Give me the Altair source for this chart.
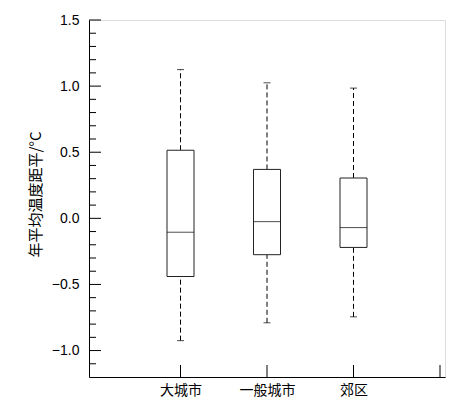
import altair as alt
import pandas as pd

categories = ["大城市", "一般城市", "郊区"]
positions = [1, 2, 3]
lower = [-0.925, -0.79, -0.745]
q1 = [-0.44, -0.275, -0.22]
median = [-0.105, -0.025, -0.07]
q3 = [0.515, 0.37, 0.305]
upper = [1.125, 1.025, 0.985]

y_major = [-1.0, -0.5, 0.0, 0.5, 1.0, 1.5]
y_minor = [round(-1.1 + 0.1 * i, 1) for i in range(26)]
y_minor = [v for v in y_minor if all(abs(v - m) > 1e-9 for m in y_major)]
x_ticks = [1, 2, 3, 4]

W, H = 356, 357
CJK = "Noto Sans CJK SC"
NUM = "Liberation Sans"

df = pd.DataFrame({"cat": categories, "pos": positions, "lower": lower, "q1": q1,
                   "median": median, "q3": q3, "upper": upper})

label_map = "{" + ",".join(f"'{p}':'{c}'" for p, c in zip(positions, categories)) + "}"

xscale = alt.Scale(domain=[0, 4], nice=False, zero=False)
yscale = alt.Scale(domain=[-1.2, 1.5], nice=False, zero=False)

xaxis = alt.Axis(values=[0, 1, 2, 3, 4], tickSize=0, labelExpr=f"{label_map}[datum.value] || ''",
                 labelFont=CJK, labelFontSize=14, labelColor="black", labelPadding=6,
                 domainColor="black", grid=False, title=None)
yaxis = alt.Axis(values=y_major, format=".1f", tickSize=0, labelFont=NUM, labelFontSize=14,
                 labelColor="black", labelPadding=10, domainColor="black", grid=False,
                 title="年平均温度距平/°C", titleFont=CJK, titleFontSize=15, titleFontWeight="normal",
                 titleColor="black", titlePadding=8, titleY=174)

base = alt.Chart(df)
X = alt.X("pos:Q", scale=xscale, axis=xaxis)

whisk_up = base.mark_rule(color="black", strokeDash=[5, 3], strokeWidth=1).encode(
    x=X, y=alt.Y("q3:Q", scale=yscale, axis=yaxis), y2="upper:Q")
whisk_dn = base.mark_rule(color="black", strokeDash=[5, 3], strokeWidth=1).encode(
    x="pos:Q", y="lower:Q", y2="q1:Q")
cap_up = base.mark_tick(color="black", orient="horizontal", size=7, thickness=1).encode(
    x="pos:Q", y="upper:Q")
cap_dn = base.mark_tick(color="black", orient="horizontal", size=7, thickness=1).encode(
    x="pos:Q", y="lower:Q")
box = base.mark_bar(size=27, fill="white", stroke="#222", strokeWidth=1).encode(
    x="pos:Q", y="q1:Q", y2="q3:Q")
med = base.mark_tick(color="black", orient="horizontal", size=27, thickness=1).encode(
    x="pos:Q", y="median:Q")

ymaj = alt.Chart(pd.DataFrame({"t": y_major})).mark_rule(color="black").encode(
    y="t:Q", x=alt.value(0), x2=alt.value(12))
ymin = alt.Chart(pd.DataFrame({"t": y_minor})).mark_rule(color="black").encode(
    y="t:Q", x=alt.value(0), x2=alt.value(7))
xt = alt.Chart(pd.DataFrame({"t": x_ticks})).mark_rule(color="black").encode(
    x="t:Q", y=alt.value(H), y2=alt.value(H - 12))

chart = alt.layer(whisk_up, whisk_dn, cap_up, cap_dn, box, med, ymaj, ymin, xt).properties(
    width=W, height=H,
    autosize=alt.AutoSizeParams(type="none"),
    padding={"left": 81, "top": 12, "right": 8, "bottom": 25},
).configure_view(stroke=None).configure(background="white")

chart.save("out.html", embed_options={"renderer": "svg", "actions": False})
